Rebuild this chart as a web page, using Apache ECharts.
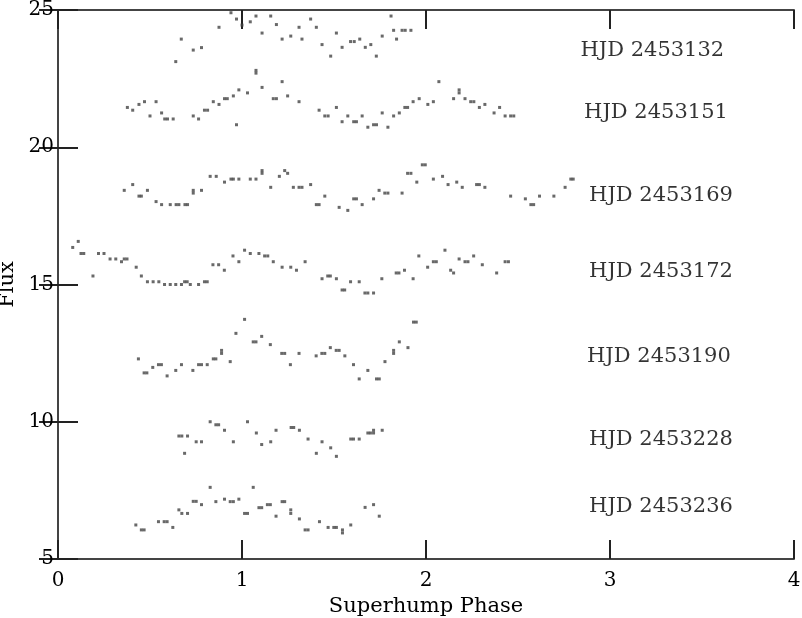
<!DOCTYPE html>
<html>
<head>
<meta charset="utf-8">
<script src="https://cdn.jsdelivr.net/npm/echarts@6/dist/echarts.min.js"></script>
<style>
  html, body { margin: 0; padding: 0; background: #fff; }
  #chart { width: 802px; height: 618px; }
</style>
</head>
<body>
<div id="chart"></div>
<script>
// [phase, flux] per night
const hjd132 = [
  [0.64, 23.12], [0.67, 23.94], [0.735, 23.54], [0.78, 23.63], [0.875, 24.37],
  [0.94, 24.9], [0.97, 24.67], [1.0, 24.45], [1.045, 24.57], [1.076, 24.78],
  [1.109, 24.16], [1.156, 24.78], [1.187, 24.47], [1.218, 23.94], [1.265, 24.05],
  [1.31, 24.37], [1.326, 23.94], [1.373, 24.67], [1.404, 24.37], [1.435, 23.74],
  [1.482, 23.32], [1.513, 24.16], [1.544, 23.64], [1.59, 23.85], [1.61, 23.85],
  [1.64, 23.94], [1.67, 23.64], [1.7, 23.74], [1.73, 23.32], [1.762, 24.05],
  [1.81, 24.78], [1.824, 24.26], [1.84, 23.94], [1.87, 24.26], [1.887, 24.26],
  [1.918, 24.26]
]
const hjd151 = [
  [0.377, 21.45], [0.406, 21.35], [0.44, 21.56], [0.47, 21.66], [0.5, 21.14],
  [0.533, 21.66], [0.563, 21.25], [0.58, 21.03], [0.595, 21.03], [0.626, 21.03],
  [0.735, 21.14], [0.764, 21.03], [0.796, 21.35], [0.813, 21.35], [0.844, 21.66],
  [0.875, 21.56], [0.905, 21.77], [0.92, 21.77], [0.953, 21.87], [0.97, 20.82],
  [0.983, 22.09], [1.03, 21.98], [1.076, 22.8], [1.076, 22.7], [1.109, 22.18],
  [1.17, 21.77], [1.187, 21.77], [1.218, 22.39], [1.248, 21.87], [1.31, 21.66],
  [1.419, 21.35], [1.45, 21.14], [1.468, 21.14], [1.513, 21.45], [1.544, 20.93],
  [1.575, 21.14], [1.607, 20.93], [1.622, 20.93], [1.653, 21.14], [1.684, 20.73],
  [1.715, 20.82], [1.731, 20.82], [1.762, 21.25], [1.793, 20.73], [1.824, 21.14],
  [1.855, 21.25], [1.885, 21.45], [1.9, 21.45], [1.93, 21.66], [1.963, 21.77],
  [2.01, 21.56], [2.04, 21.66], [2.07, 22.39], [2.15, 21.77], [2.18, 22.09],
  [2.18, 21.98], [2.212, 21.77], [2.243, 21.66], [2.26, 21.66], [2.29, 21.45],
  [2.32, 21.56], [2.37, 21.25], [2.4, 21.45], [2.43, 21.14], [2.46, 21.14],
  [2.477, 21.14]
]
const hjd169 = [
  [0.36, 18.43], [0.406, 18.64], [0.44, 18.22], [0.453, 18.22], [0.486, 18.43],
  [0.533, 18.02], [0.563, 17.91], [0.61, 17.91], [0.642, 17.91], [0.657, 17.91],
  [0.69, 17.91], [0.704, 17.91], [0.735, 18.33], [0.735, 18.43], [0.78, 18.43],
  [0.827, 18.94], [0.86, 18.94], [0.905, 18.73], [0.94, 18.84], [0.953, 18.84],
  [0.983, 18.84], [1.045, 18.84], [1.076, 18.84], [1.109, 19.15], [1.109, 19.05],
  [1.156, 18.54], [1.203, 18.94], [1.232, 19.15], [1.248, 19.05], [1.279, 18.54],
  [1.31, 18.54], [1.326, 18.54], [1.373, 18.64], [1.404, 17.91], [1.419, 17.91],
  [1.45, 18.22], [1.528, 17.81], [1.575, 17.7], [1.607, 18.12], [1.622, 18.12],
  [1.653, 17.91], [1.715, 18.12], [1.745, 18.43], [1.776, 18.33], [1.793, 18.33],
  [1.87, 18.33], [1.9, 19.05], [1.918, 19.05], [1.95, 18.73], [1.98, 19.36],
  [1.996, 19.36], [2.04, 18.84], [2.09, 18.94], [2.12, 18.64], [2.167, 18.73],
  [2.197, 18.54], [2.275, 18.64], [2.29, 18.64], [2.32, 18.54], [2.46, 18.22],
  [2.54, 18.12], [2.57, 17.91], [2.585, 17.91], [2.617, 18.22], [2.695, 18.22],
  [2.756, 18.54], [2.787, 18.84], [2.8, 18.84]
]
const hjd172 = [
  [0.08, 16.35], [0.11, 16.57], [0.125, 16.13], [0.14, 16.13], [0.19, 15.31],
  [0.22, 16.13], [0.25, 16.13], [0.283, 15.93], [0.314, 15.93], [0.345, 15.83],
  [0.36, 15.93], [0.375, 15.93], [0.425, 15.63], [0.453, 15.31], [0.486, 15.1],
  [0.517, 15.1], [0.548, 15.1], [0.579, 15.0], [0.61, 15.0], [0.64, 15.0],
  [0.671, 15.0], [0.688, 15.1], [0.702, 15.1], [0.719, 15.0], [0.764, 15.0],
  [0.796, 15.1], [0.811, 15.1], [0.842, 15.72], [0.873, 15.72], [0.904, 15.52],
  [0.951, 16.04], [0.983, 15.83], [1.014, 16.25], [1.045, 16.13], [1.092, 16.13],
  [1.123, 16.04], [1.14, 16.04], [1.17, 15.83], [1.218, 15.63], [1.265, 15.63],
  [1.296, 15.52], [1.343, 15.83], [1.435, 15.21], [1.466, 15.31], [1.48, 15.31],
  [1.513, 15.21], [1.544, 14.8], [1.558, 14.8], [1.59, 15.1], [1.637, 15.1],
  [1.668, 14.69], [1.684, 14.69], [1.715, 14.69], [1.76, 15.21], [1.838, 15.42],
  [1.853, 15.42], [1.883, 15.52], [1.93, 15.21], [1.961, 16.04], [2.009, 15.63],
  [2.04, 15.83], [2.056, 15.83], [2.103, 16.25], [2.134, 15.52], [2.15, 15.42],
  [2.18, 15.93], [2.212, 15.83], [2.228, 15.83], [2.259, 16.04], [2.306, 15.72],
  [2.384, 15.42], [2.43, 15.83], [2.448, 15.83]
]
const hjd190 = [
  [0.437, 12.29], [0.468, 11.78], [0.483, 11.78], [0.515, 11.98], [0.546, 12.08],
  [0.562, 12.08], [0.593, 11.67], [0.64, 11.87], [0.671, 12.08], [0.733, 11.87],
  [0.764, 12.08], [0.78, 12.08], [0.811, 12.08], [0.844, 12.29], [0.858, 12.29],
  [0.889, 12.6], [0.889, 12.49], [0.936, 12.19], [0.967, 13.22], [1.014, 13.73],
  [1.061, 12.91], [1.076, 12.91], [1.107, 13.11], [1.154, 12.81], [1.216, 12.49],
  [1.232, 12.49], [1.263, 12.08], [1.31, 12.49], [1.403, 12.4], [1.434, 12.49],
  [1.45, 12.49], [1.48, 12.7], [1.512, 12.6], [1.528, 12.6], [1.559, 12.4],
  [1.606, 12.08], [1.637, 11.56], [1.684, 11.87], [1.731, 11.56], [1.746, 11.56],
  [1.777, 12.19], [1.824, 12.6], [1.824, 12.49], [1.855, 12.91], [1.902, 12.7],
  [1.932, 13.63], [1.947, 13.63]
]
const hjd228 = [
  [0.657, 9.48], [0.673, 9.48], [0.704, 9.48], [0.688, 8.85], [0.751, 9.27],
  [0.78, 9.27], [0.827, 10.0], [0.858, 9.89], [0.873, 9.89], [0.905, 9.69],
  [0.953, 9.27], [1.03, 10.0], [1.078, 9.59], [1.107, 9.17], [1.156, 9.27],
  [1.185, 9.69], [1.267, 9.79], [1.281, 9.79], [1.312, 9.69], [1.359, 9.37],
  [1.404, 8.85], [1.435, 9.27], [1.482, 9.05], [1.513, 8.74], [1.591, 9.37],
  [1.606, 9.37], [1.637, 9.37], [1.684, 9.59], [1.698, 9.59], [1.715, 9.69],
  [1.715, 9.59], [1.762, 9.69]
]
const hjd236 = [
  [0.423, 6.24], [0.453, 6.06], [0.468, 6.06], [0.546, 6.36], [0.577, 6.36],
  [0.593, 6.36], [0.624, 6.15], [0.657, 6.79], [0.673, 6.66], [0.704, 6.66],
  [0.735, 7.1], [0.751, 7.1], [0.78, 6.98], [0.827, 7.61], [0.858, 7.09],
  [0.905, 7.18], [0.936, 7.09], [0.953, 7.09], [0.983, 7.18], [1.014, 6.66],
  [1.03, 6.66], [1.061, 7.61], [1.092, 6.87], [1.107, 6.87], [1.138, 6.98],
  [1.154, 6.98], [1.185, 6.56], [1.218, 7.09], [1.232, 7.09], [1.265, 6.79],
  [1.265, 6.66], [1.312, 6.46], [1.343, 6.06], [1.359, 6.06], [1.421, 6.36],
  [1.468, 6.15], [1.499, 6.15], [1.513, 6.15], [1.546, 6.06], [1.546, 5.95],
  [1.591, 6.24], [1.669, 6.88], [1.715, 6.98], [1.746, 6.56]
]

// night labels: [phase, flux, text]
const nightLabels = [
  [3.23, 23.52, 'HJD 2453132'],
  [3.25, 21.27, 'HJD 2453151'],
  [3.277, 18.24, 'HJD 2453169'],
  [3.277, 15.47, 'HJD 2453172'],
  [3.266, 12.38, 'HJD 2453190'],
  [3.277, 9.335, 'HJD 2453228'],
  [3.277, 6.895, 'HJD 2453236']
]

const nights = [hjd132, hjd151, hjd169, hjd172, hjd190, hjd228, hjd236]

const font = 'DejaVu Serif'
const frame = { show: true, lineStyle: { color: '#444', width: 2 } }
const ticks = { show: true, inside: true, length: 19, lineStyle: { color: '#222', width: 2 } }

const chart = echarts.init(document.getElementById('chart'))

const series = nights.map(d => ({
  type: 'scatter',
  data: d,
  symbol: 'rect',
  symbolSize: 3,
  itemStyle: { color: '#444' },
  silent: true
}))

series.push({
  type: 'scatter',
  data: nightLabels,
  symbolSize: 0,
  silent: true,
  label: {
    show: true,
    position: 'inside',
    formatter: p => p.data[2],
    fontFamily: font,
    fontSize: 21,
    color: '#000'
  }
})

chart.setOption({
  animation: false,
  grid: { left: 58, right: 8, top: 10, bottom: 59, containLabel: false, outerBoundsMode: 'none' },
  xAxis: [
    {
      type: 'value', min: 0, max: 4, interval: 1,
      name: 'Superhump Phase', nameLocation: 'middle', nameGap: 34,
      nameTextStyle: { fontFamily: font, fontSize: 21, color: '#000' },
      axisLine: frame, axisTick: ticks,
      axisLabel: { fontFamily: font, fontSize: 20, color: '#000', margin: 12 },
      splitLine: { show: false }
    },
    {
      type: 'value', min: 0, max: 4, interval: 1, position: 'top',
      axisLine: frame, axisTick: ticks,
      axisLabel: { show: false }, splitLine: { show: false }
    }
  ],
  yAxis: [
    {
      type: 'value', min: 5, max: 25, interval: 5,
      name: 'Flux', nameLocation: 'middle', nameGap: 38,
      nameTextStyle: { fontFamily: font, fontSize: 21, color: '#000' },
      axisLine: frame, axisTick: { ...ticks, length: 20 },
      axisLabel: { fontFamily: font, fontSize: 20, color: '#000', margin: 4 },
      splitLine: { show: false }
    },
    {
      type: 'value', min: 5, max: 25, interval: 5, position: 'right',
      axisLine: frame, axisTick: ticks,
      axisLabel: { show: false }, splitLine: { show: false }
    }
  ],
  series: series
})
</script>
</body>
</html>
